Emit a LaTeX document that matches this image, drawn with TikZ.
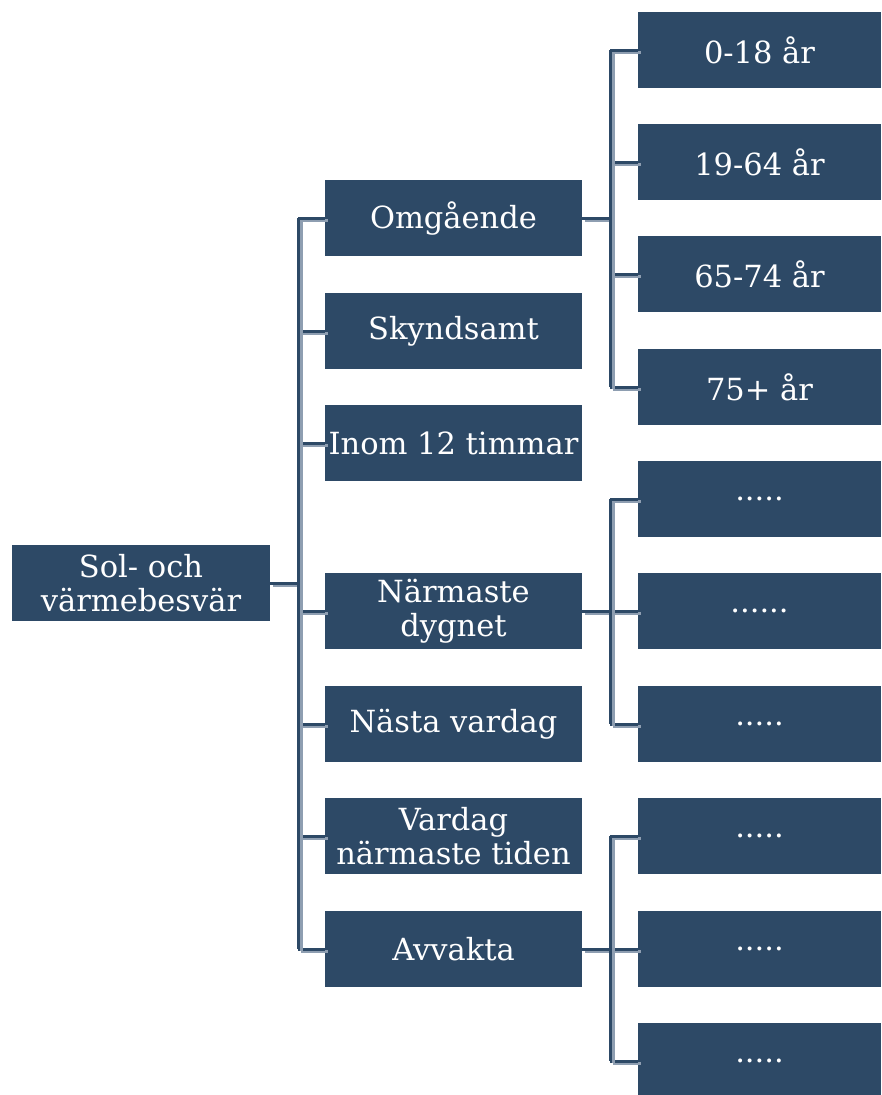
\documentclass[tikz,border=0pt]{standalone}
\usepackage{fontspec}
\setmainfont{DejaVu Serif}
\definecolor{boxblue}{HTML}{2D4966}
\definecolor{linkshade}{HTML}{8E9EB1}

\begin{document}
\begin{tikzpicture}[x=1pt, y=-1pt,
    box/.style={fill=boxblue, text=white, minimum width=257pt, minimum height=76pt,
                inner sep=0pt, align=center, font=\fontsize{30.5}{34}\selectfont},
    leaf/.style={box, minimum width=243pt},
    link/.style={draw=boxblue, line width=3pt,
                 preaction={draw=linkshade, line width=3pt,
                            transform canvas={shift={(3pt,-2pt)}}}}]
        \useasboundingbox (0,0) rectangle (882,1095);

        % The root
        \node[box, minimum width=258pt] (sol) at (141,583) {Sol- och\\värmebesvär};

        % Urgency levels
        \node[box] (omg) at (453.5,218) {Omgående};
        \node[box] (sky) at (453.5,331) {Skyndsamt};
        \node[box] (inom) at (453.5,443) {Inom 12 timmar};
        \node[box] (narm) at (453.5,611) {Närmaste\\dygnet};
        \node[box] (nasta) at (453.5,724) {Nästa vardag};
        \node[box] (vard) at (453.5,836) {Vardag\\närmaste tiden};
        \node[box] (avv) at (453.5,949) {Avvakta};

        % Age groups and the rest
        \node[leaf] (a1) at (759.5,50) {0-18 år};
        \node[leaf] (a2) at (759.5,162) {19-64 år};
        \node[leaf] (a3) at (759.5,274) {65-74 år};
        \node[leaf] (a4) at (759.5,387) {75+ år};
        \node[leaf] (b1) at (759.5,499) {.....};
        \node[leaf] (b2) at (759.5,611) {......};
        \node[leaf] (b3) at (759.5,724) {.....};
        \node[leaf] (c1) at (759.5,836) {.....};
        \node[leaf] (c2) at (759.5,949) {.....};
        \node[leaf] (c3) at (759.5,1061) {.....};

        % The spines
        \coordinate (sp) at (298,0);
        \coordinate (sq) at (610,0);

        % Root to urgency levels
        \draw[link] (sol.east) -- (sp |- sol.east);
        \foreach \n in {omg,sky,inom,narm,nasta,vard,avv}
            \draw[link] (sp |- \n.west) -- (\n.west);
        \draw[link] (sp |- omg.west) -- (sp |- avv.west);

        % Urgency levels to the right column
        \draw[link] (omg.east) -- (sq |- omg.east);
        \foreach \n in {a1,a2,a3,a4}
            \draw[link] (sq |- \n.west) -- (\n.west);
        \draw[link] (sq |- a1.west) -- (sq |- a4.west);

        \draw[link] (narm.east) -- (sq |- narm.east);
        \foreach \n in {b1,b2,b3}
            \draw[link] (sq |- \n.west) -- (\n.west);
        \draw[link] (sq |- b1.west) -- (sq |- b3.west);

        \draw[link] (avv.east) -- (sq |- avv.east);
        \foreach \n in {c1,c2,c3}
            \draw[link] (sq |- \n.west) -- (\n.west);
        \draw[link] (sq |- c1.west) -- (sq |- c3.west);
    \end{tikzpicture}
\end{document}
